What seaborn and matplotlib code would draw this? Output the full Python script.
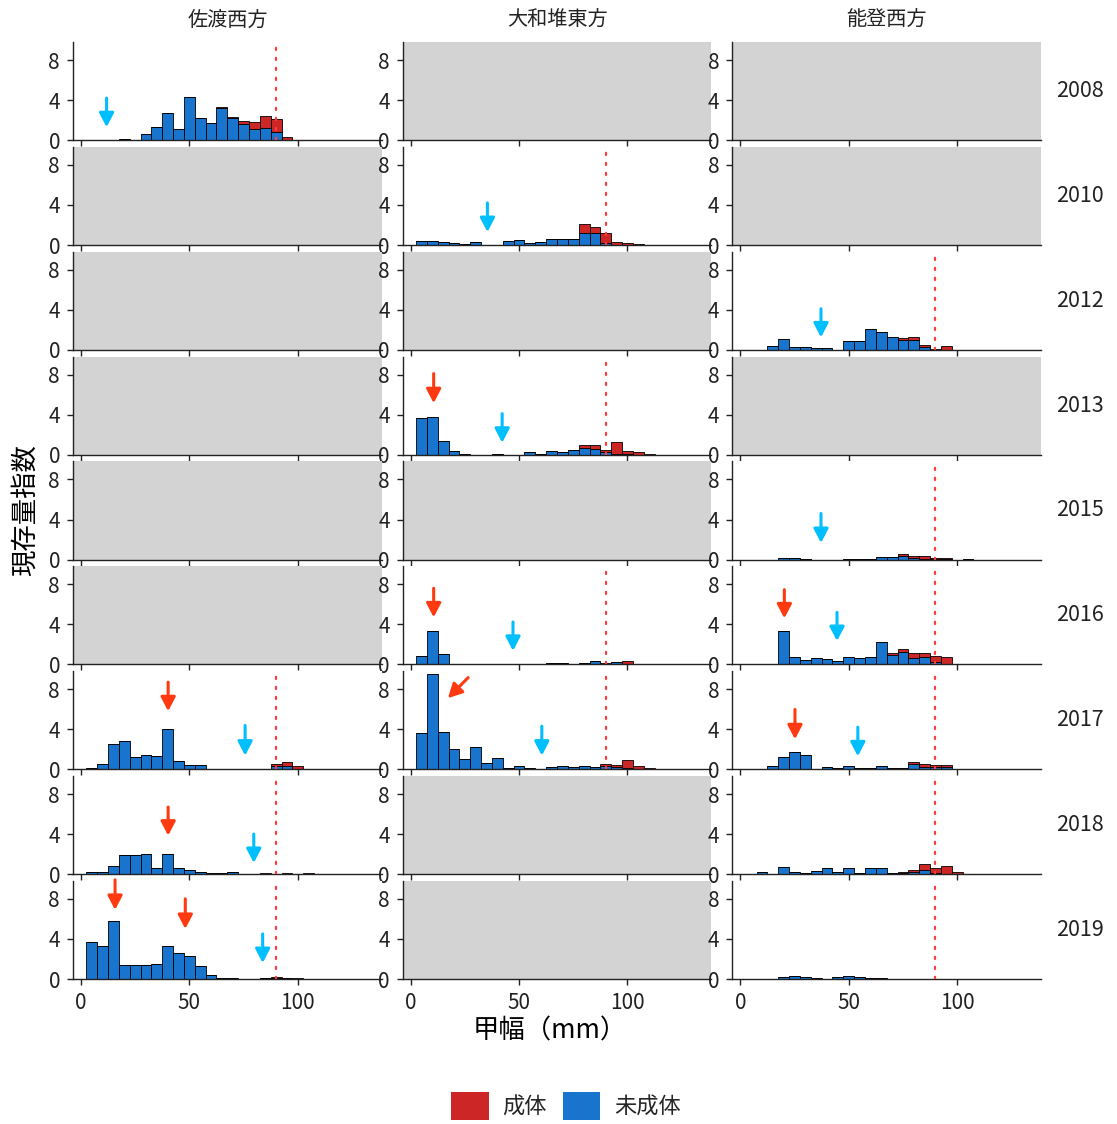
import numpy as np
import pandas as pd
import matplotlib
matplotlib.use("Agg")
import matplotlib.pyplot as plt
import seaborn as sns
from matplotlib.patches import Patch

sns.set_theme(style="ticks")
plt.rcParams['font.family'] = ['Noto Sans CJK JP', 'DejaVu Sans']

# ---------------- data ----------------
regions = ["佐渡西方", "大和堆東方", "能登西方"]
years = [2008, 2010, 2012, 2013, 2015, 2016, 2017, 2018, 2019]
stages = ["成体", "未成体"]
centers = list(range(5, 130, 5))  # bin centres (mm), 5 mm bins

#               5-25                          30-50                         55-75                          80-100                        105-125
sado_2008_imm = [0, 0, 0.05, 0.13, 0,          0.64, 1.36, 2.75, 1.15, 4.3,  2.17, 1.76, 3.2, 2.2, 1.6,     1.08, 1.19, 0.81, 0.03, 0,    0, 0, 0, 0, 0]
sado_2008_adu = [0, 0, 0, 0, 0,                0, 0, 0, 0, 0,                0, 0, 0.1, 0.07, 0.33,         0.75, 1.25, 1.32, 0.24, 0,    0, 0, 0, 0, 0]
yamato_2010_imm = [0.37, 0.4, 0.34, 0.24, 0.14, 0.31, 0.03, 0.02, 0.37, 0.48, 0.2, 0.34, 0.58, 0.65, 0.65, 1.22, 1.19, 0.24, 0.02, 0,  0, 0, 0, 0, 0]
yamato_2010_adu = [0, 0, 0, 0, 0,              0, 0, 0, 0, 0,                0, 0, 0, 0, 0,                 0.88, 0.61, 0.95, 0.32, 0.2,  0.1, 0.03, 0, 0, 0]
noto_2012_imm = [0, 0, 0.37, 1.12, 0.3,        0.24, 0.14, 0.17, 0.03, 0.88, 0.92, 2.1, 1.76, 1.29, 0.98,   0.98, 0.24, 0.03, 0.03, 0,    0, 0, 0, 0, 0]
noto_2012_adu = [0, 0, 0, 0, 0,                0, 0, 0, 0, 0,                0, 0, 0, 0, 0.24,              0.34, 0.27, 0.04, 0.31, 0,    0, 0, 0, 0, 0]
yamato_2013_imm = [3.63, 3.73, 1.36, 0.37, 0.03, 0.02, 0.02, 0.03, 0.02, 0, 0.3, 0.1, 0.34, 0.24, 0.47,   0.64, 0.61, 0.24, 0.07, 0.03, 0, 0, 0, 0, 0]
yamato_2013_adu = [0, 0, 0, 0, 0,              0, 0, 0, 0, 0,                0, 0, 0, 0, 0,                 0.34, 0.37, 0.23, 1.18, 0.34, 0.24, 0.07, 0, 0, 0]
noto_2015_imm = [0, 0, 0, 0.2, 0.2,            0.05, 0, 0, 0, 0.05,          0.05, 0.07, 0.3, 0.24, 0.34,   0.17, 0.1, 0.1, 0.05, 0,      0.05, 0, 0, 0, 0]
noto_2015_adu = [0, 0, 0, 0, 0,                0, 0, 0, 0, 0,                0, 0, 0, 0, 0.2,               0.23, 0.24, 0.1, 0.07, 0,     0, 0, 0, 0, 0]
yamato_2016_imm = [0.85, 3.36, 1.02, 0.07, 0,  0.05, 0, 0, 0, 0,             0, 0, 0.17, 0.12, 0,           0.17, 0.3, 0.03, 0.2, 0.07,   0, 0.05, 0, 0, 0]
yamato_2016_adu = [0, 0, 0, 0, 0,              0, 0, 0, 0, 0,                0, 0, 0, 0, 0,                 0, 0.04, 0.07, 0.07, 0.27,    0, 0, 0, 0, 0]
noto_2016_imm = [0, 0, 0, 3.3, 0.71,           0.44, 0.61, 0.51, 0.37, 0.75, 0.61, 0.71, 2.27, 0.98, 1.29,  0.68, 0.78, 0.24, 0.05, 0,    0, 0, 0, 0, 0]
noto_2016_adu = [0, 0, 0, 0, 0,                0, 0, 0, 0, 0,                0, 0, 0, 0.17, 0.27,           0.44, 0.34, 0.61, 0.7, 0,     0, 0, 0, 0, 0]
sado_2017_imm = [0.17, 0.51, 2.52, 2.87, 1.26, 1.4, 1.3, 4.0, 0.85, 0.44,    0.41, 0.07, 0.07, 0, 0.07,     0.07, 0, 0.3, 0.34, 0.03,     0, 0, 0, 0, 0]
sado_2017_adu = [0, 0, 0, 0, 0,                0, 0, 0, 0, 0,                0, 0, 0, 0, 0,                 0, 0, 0.18, 0.41, 0.27,       0, 0.05, 0, 0.05, 0]
yamato_2017_imm = [3.58, 9.5, 3.75, 1.98, 0.99, 2.18, 0.61, 1.09, 0.1, 0.3,  0.17, 0.03, 0.2, 0.37, 0.27,   0.37, 0.24, 0.34, 0.27, 0.17, 0.03, 0, 0, 0, 0]
yamato_2017_adu = [0, 0, 0, 0, 0,              0, 0, 0, 0, 0,                0, 0, 0, 0, 0,                 0, 0, 0.17, 0.14, 0.78,       0.34, 0.17, 0.03, 0, 0]
noto_2017_imm = [0, 0, 0.34, 1.2, 1.74,        1.47, 0.03, 0.2, 0.1, 0.37,   0.1, 0.1, 0.34, 0.1, 0.1,      0.51, 0.24, 0.2, 0.2, 0.03,   0, 0, 0, 0, 0]
noto_2017_adu = [0, 0, 0, 0, 0,                0, 0, 0, 0, 0,                0, 0, 0, 0, 0,                 0.24, 0.27, 0.21, 0.24, 0,    0, 0, 0, 0, 0]
sado_2018_imm = [0.17, 0.24, 0.82, 1.94, 1.87, 1.97, 0.58, 1.97, 0.65, 0.41, 0.17, 0.07, 0.07, 0.2, 0,      0.03, 0.05, 0, 0.03, 0,       0, 0.03, 0, 0, 0]
sado_2018_adu = [0, 0, 0, 0, 0,                0, 0, 0, 0, 0,                0, 0, 0, 0, 0,                 0, 0.09, 0, 0.11, 0,          0.14, 0, 0, 0, 0]
noto_2018_imm = [0, 0.17, 0, 0.68, 0.24,       0.14, 0.34, 0.65, 0.2, 0.58,  0.1, 0.65, 0.61, 0.1, 0.1,     0.24, 0.41, 0.1, 0.03, 0,     0, 0, 0, 0, 0]
noto_2018_adu = [0, 0, 0, 0, 0,                0, 0, 0, 0, 0,                0, 0, 0, 0, 0.07,              0.2, 0.58, 0.48, 0.75, 0.24,  0, 0, 0, 0, 0]
sado_2019_imm = [3.7, 3.3, 5.8, 1.4, 1.4,      1.4, 1.5, 3.3, 2.6, 2.3,      1.3, 0.4, 0.1, 0.05, 0,        0, 0.1, 0.1, 0.05, 0,         0, 0.03, 0, 0.03, 0]
sado_2019_adu = [0, 0, 0, 0, 0,                0, 0, 0, 0, 0,                0, 0, 0, 0, 0,                 0, 0, 0.05, 0.05, 0.05,       0, 0, 0, 0, 0]
noto_2019_imm = [0, 0, 0, 0.2, 0.25,           0.2, 0.1, 0, 0.15, 0.3,       0.15, 0.1, 0.05, 0, 0,         0, 0, 0, 0, 0,                0, 0, 0, 0, 0]
noto_2019_adu = [0, 0, 0, 0, 0,                0, 0, 0, 0, 0,                0, 0, 0, 0, 0,                 0, 0, 0, 0, 0,                0, 0, 0, 0, 0]

panels = {
    ("佐渡西方", 2008): (sado_2008_imm, sado_2008_adu),
    ("大和堆東方", 2010): (yamato_2010_imm, yamato_2010_adu),
    ("能登西方", 2012): (noto_2012_imm, noto_2012_adu),
    ("大和堆東方", 2013): (yamato_2013_imm, yamato_2013_adu),
    ("能登西方", 2015): (noto_2015_imm, noto_2015_adu),
    ("大和堆東方", 2016): (yamato_2016_imm, yamato_2016_adu),
    ("能登西方", 2016): (noto_2016_imm, noto_2016_adu),
    ("佐渡西方", 2017): (sado_2017_imm, sado_2017_adu),
    ("大和堆東方", 2017): (yamato_2017_imm, yamato_2017_adu),
    ("能登西方", 2017): (noto_2017_imm, noto_2017_adu),
    ("佐渡西方", 2018): (sado_2018_imm, sado_2018_adu),
    ("能登西方", 2018): (noto_2018_imm, noto_2018_adu),
    ("佐渡西方", 2019): (sado_2019_imm, sado_2019_adu),
    ("能登西方", 2019): (noto_2019_imm, noto_2019_adu),
}

# arrows: region, year, x0, y0 (tail), x1, y1 (tip), kind
arrow_region = ["佐渡西方", "大和堆東方", "能登西方", "大和堆東方", "大和堆東方", "能登西方",
                "大和堆東方", "大和堆東方", "能登西方", "能登西方", "佐渡西方", "佐渡西方",
                "大和堆東方", "大和堆東方", "能登西方", "能登西方", "佐渡西方", "佐渡西方",
                "佐渡西方", "佐渡西方", "佐渡西方"]
arrow_year = [2008, 2010, 2012, 2013, 2013, 2015,
              2016, 2016, 2016, 2016, 2017, 2017,
              2017, 2017, 2017, 2017, 2018, 2018,
              2019, 2019, 2019]
arrow_x0 = [11.8, 35.4, 37.2, 10.6, 42.2, 37.2,
            10.6, 47.2, 20.3, 44.6, 40.2, 75.7,
            26.5, 60.5, 25.2, 54.2, 40.2, 79.7,
            15.7, 48.1, 83.8]
arrow_y0 = [4.2, 4.2, 4.1, 8.1, 4.1, 4.6,
            7.6, 4.24, 7.46, 5.2, 8.7, 4.37,
            9.15, 4.3, 5.97, 4.2, 6.7, 4.0,
            9.9, 8.0, 4.5]
arrow_x1 = [11.8, 35.4, 37.2, 10.6, 42.2, 37.2,
            10.6, 47.2, 20.3, 44.6, 40.2, 75.7,
            17.2, 60.5, 25.2, 54.2, 40.2, 79.7,
            15.7, 48.1, 83.8]
arrow_y1 = [1.3, 1.3, 1.25, 5.15, 1.2, 1.66,
            4.7, 1.36, 4.6, 2.34, 5.8, 1.37,
            7.1, 1.37, 3.0, 1.3, 3.85, 1.12,
            6.9, 5.0, 1.6]
arrow_kind = ["imm", "imm", "imm", "adu", "imm", "imm",
              "adu", "imm", "adu", "imm", "adu", "imm",
              "adu", "imm", "adu", "imm", "adu", "imm",
              "adu", "adu", "imm"]

size_threshold = 90  # dotted reference line (mm)

# ---------------- build long table ----------------
rows = []
for (reg, yr), (imm, adu) in panels.items():
    for c, v in zip(centers, imm):
        rows.append((reg, yr, "未成体", c, v))
    for c, v in zip(centers, adu):
        rows.append((reg, yr, "成体", c, v))
df = pd.DataFrame(rows, columns=["region", "year", "stage", "width", "value"])

arrows = pd.DataFrame({"region": arrow_region, "year": arrow_year,
                       "x0": arrow_x0, "y0": arrow_y0, "x1": arrow_x1, "y1": arrow_y1,
                       "kind": arrow_kind})

# ---------------- style ----------------
RED = "#CD2626"
BLUE = "#1874CD"
palette = {"成体": RED, "未成体": BLUE}
ARROW_COL = {"adu": "#FF3A10", "imm": "#00BFFF"}

W, H = 1117, 1124
fig, axes = plt.subplots(len(years), len(regions), figsize=(W / 100, H / 100), dpi=100, sharex=True)
fig.subplots_adjust(left=73 / W, right=1041 / W, top=1 - 42 / H, bottom=1 - 979 / H,
                    wspace=0.068, hspace=0.068)

for i, yr in enumerate(years):
    for j, reg in enumerate(regions):
        ax = axes[i, j]
        sub = df[(df.region == reg) & (df.year == yr)].reset_index(drop=True)
        if sub.empty:
            ax.set_facecolor("#D3D3D3")
        else:
            ax.set_facecolor("white")
            sns.histplot(data=sub, x="width", weights="value", hue="stage",
                         hue_order=stages, multiple="stack", binwidth=5,
                         binrange=(2.5, 127.5),
                         palette=palette, edgecolor="black", linewidth=0.6,
                         alpha=1, legend=False, ax=ax)
            ax.axvline(size_threshold, color="#FF3B3B", lw=1.6,
                       linestyle=(0, (1, 3.5)), dash_capstyle="round", zorder=3)
            arr = arrows[(arrows.region == reg) & (arrows.year == yr)]
            for _, a in arr.iterrows():
                ax.annotate("", xy=(a.x1, a.y1), xytext=(a.x0, a.y0),
                            arrowprops=dict(arrowstyle="-|>,head_length=0.42,head_width=0.22",
                                            color=ARROW_COL[a.kind], lw=2.2,
                                            shrinkA=0, shrinkB=0, mutation_scale=20),
                            zorder=4)
        ax.set_xlim(-3.7, 138.7)
        ax.set_ylim(0, 9.8)
        ax.set_yticks([0, 4, 8])
        ax.set_xticks([0, 50, 100])
        ax.set_xlabel("")
        ax.set_ylabel("")
        for s in ["top", "right"]:
            ax.spines[s].set_visible(False)
        for s in ["left", "bottom"]:
            ax.spines[s].set_linewidth(1.0)
            ax.spines[s].set_color("#222222")
        ax.tick_params(axis="both", direction="out", length=4.3, width=1.0,
                       color="#222222", labelsize=15, labelcolor="#222222", pad=5)

# strip labels
for j, reg in enumerate(regions):
    pos = axes[0, j].get_position()
    fig.text((pos.x0 + pos.x1) / 2, 1 - 20 / H, reg, ha="center", va="center",
             fontsize=14.5, color="#222222")
for i, yr in enumerate(years):
    pos = axes[i, 2].get_position()
    fig.text(1080 / W, (pos.y0 + pos.y1) / 2, str(yr), ha="center", va="center",
             fontsize=15.5, color="#222222")

# axis titles
fig.text(25 / W, 1 - 510 / H, "現存量指数", rotation=90, ha="center", va="center",
         fontsize=19, color="black")
fig.text(550 / W, 1 - 1031 / H, "甲幅（mm）", ha="center", va="center",
         fontsize=19, color="black")

# legend
handles = [Patch(facecolor=palette[s], edgecolor="none") for s in stages]
fig.legend(handles=handles, labels=stages, loc="center",
           bbox_to_anchor=(566 / W, 1 - 1106 / H), ncol=2, frameon=False,
           fontsize=16, handlelength=1.7, handleheight=1.6,
           handletextpad=0.6, columnspacing=0.7, borderpad=0)

fig.savefig("out.png", dpi=100)
